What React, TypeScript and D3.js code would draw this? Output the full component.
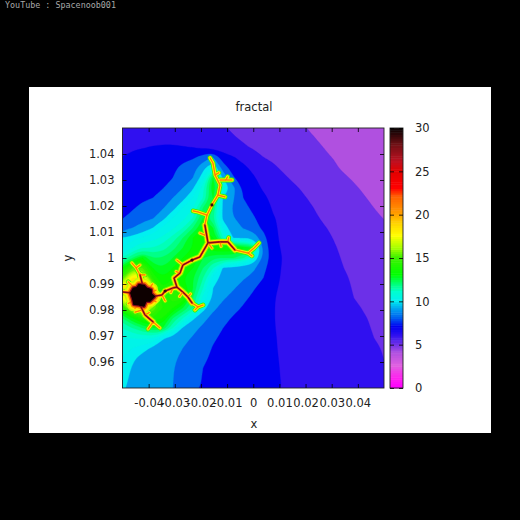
import { useEffect, useRef } from 'react';
import * as d3 from 'd3';

const xTicks = [-0.04, -0.03, -0.02, -0.01, 0, 0.01, 0.02, 0.03, 0.04];
const yTicks = [0.96, 0.97, 0.98, 0.99, 1, 1.01, 1.02, 1.03, 1.04];
const barTicks = [0, 5, 10, 15, 20, 25, 30];

// colour stops of the palette
const paletteValues = [0, 1, 2.5, 4, 5, 6, 7, 8, 9, 10, 11, 12, 13, 15, 16, 17.5, 19, 20, 22, 23, 25, 26, 28, 30];
const paletteColors = ['#ff00ff', '#ff20f0', '#e060e0', '#b050e0', '#6c30e8', '#3010f0', '#0000f0', '#0060f0', '#00a0f0', '#00f0f0', '#00ffd0', '#00ff70', '#00ff00', '#40f000', '#a0ff00', '#ffff00', '#ffd000', '#ffa000', '#ff6000', '#ff0000', '#e00000', '#c01020', '#701015', '#000000'];

// iteration counts, top row y=1.05 to bottom row y=0.95, left x=-0.05 to right x=0.05
const iterationRows = [
  [6, 6.05, 6.1, 6.1, 6.1, 6.05, 6, 5.9, 5.8, 5.7, 5.55, 5.42, 5.3, 5.17, 5.05, 4.92, 4.79, 4.66, 4.54, 4.41, 4.3, 4.2, 4.1, 4, 3.95, 3.85, 3.8],
  [6.2, 6.25, 6.3, 6.3, 6.3, 6.3, 6.25, 6.15, 6, 5.8, 5.7, 5.55, 5.42, 5.3, 5.17, 5.04, 4.9, 4.78, 4.65, 4.52, 4.4, 4.28, 4.15, 4.05, 3.95, 3.85, 3.75],
  [6.35, 6.42, 6.48, 6.55, 6.6, 6.6, 6.55, 6.52, 6.42, 6.3, 6.1, 5.95, 5.6, 5.45, 5.3, 5.18, 5.05, 4.92, 4.8, 4.68, 4.5, 4.4, 4.28, 4.2, 4.1, 4, 3.9],
  [6.52, 6.7, 6.85, 7, 7.15, 7.3, 7.4, 7.4, 8, 8.6, 7, 6.6, 6.25, 5.9, 5.52, 5.4, 5.25, 5.1, 5, 4.8, 4.6, 4.48, 4.35, 4.25, 4.15, 4.05, 3.95],
  [6.7, 6.85, 7, 7.15, 7.3, 7.42, 7.6, 8.1, 9.2, 10.5, 8, 7.1, 6.7, 6.3, 5.95, 5.6, 5.4, 5.3, 5.15, 5, 4.8, 4.6, 4.4, 4.3, 4.2, 4.1, 4],
  [6.8, 7, 7.1, 7.2, 7.35, 7.5, 8, 8.5, 10, 12.5, 9.3, 7.6, 7.1, 6.6, 6.2, 5.95, 5.6, 5.4, 5.3, 5.15, 5, 4.8, 4.6, 4.42, 4.3, 4.2, 4.1],
  [6.9, 7, 7.15, 7.3, 7.45, 8, 8.5, 9.4, 10.8, 13, 11, 8.8, 7.3, 6.8, 6.4, 6.1, 5.85, 5.6, 5.42, 5.3, 5.15, 5, 4.8, 4.6, 4.4, 4.3, 4.2],
  [7, 7.15, 7.3, 7.5, 8, 8.5, 9.3, 10, 11, 12.5, 9.4, 8.6, 7.5, 7, 6.65, 6.3, 6.05, 5.8, 5.55, 5.4, 5.25, 5.1, 5, 4.8, 4.55, 4.35, 4.25],
  [7.2, 7.4, 7.8, 8.1, 8.4, 9.3, 10, 10.5, 12, 12, 9.3, 8.4, 7.8, 7.3, 6.9, 6.4, 6.2, 5.95, 5.75, 5.5, 5.35, 5.2, 5.05, 4.95, 4.8, 4.5, 4.35],
  [7.45, 7.8, 8.1, 8.4, 9.3, 10, 10.3, 11, 12.5, 11.5, 9.3, 8.55, 8.1, 7.6, 7.1, 6.55, 6.3, 6.1, 5.85, 5.6, 5.42, 5.3, 5.15, 5, 4.9, 4.75, 4.45],
  [8.2, 8.5, 9, 9.5, 10.1, 10.4, 11, 12, 13, 12.5, 10, 9, 8.45, 7.9, 7.3, 6.6, 6.35, 6.2, 6, 5.75, 5.55, 5.4, 5.25, 5.1, 5, 4.9, 4.75],
  [9.5, 9.8, 10.1, 10.3, 10.6, 11.2, 12, 13, 13.5, 13, 11, 9.5, 9.4, 9.3, 7.9, 6.6, 6.4, 6.25, 6.05, 5.85, 5.65, 5.48, 5.35, 5.2, 5.1, 5, 4.9],
  [10, 10.5, 11, 11, 11.3, 11.8, 12.5, 13, 13, 13.5, 13.5, 13.5, 13, 12.5, 8.4, 6.6, 6.45, 6.3, 6.1, 5.95, 5.75, 5.55, 5.4, 5.3, 5.2, 5.05, 5],
  [11, 12, 13, 12, 12, 12.5, 13, 13.5, 12.5, 12, 12, 12, 11.5, 10.5, 8.3, 6.9, 6.45, 6.3, 6.15, 6, 5.85, 5.6, 5.45, 5.35, 5.25, 5.15, 5.05],
  [13, 15, 15, 13, 12.5, 13, 13.5, 13, 12, 11, 9.4, 9.2, 9, 8.7, 7.8, 6.8, 6.4, 6.35, 6.2, 6.05, 5.9, 5.75, 5.5, 5.42, 5.3, 5.2, 5.1],
  [15, 18, 18, 14, 13, 13.5, 13, 12.5, 11.5, 9.8, 9.3, 9, 8.6, 8.2, 7.5, 6.7, 6.4, 6.35, 6.25, 6.1, 5.95, 5.8, 5.6, 5.4, 5.35, 5.25, 5.15],
  [18, 20, 20, 17, 13.5, 14, 13.5, 12.5, 11, 9.5, 9, 8.6, 8.1, 7.6, 7.1, 6.58, 6.4, 6.35, 6.25, 6.15, 6, 5.85, 5.65, 5.45, 5.35, 5.25, 5.2],
  [17, 20, 22, 16, 13.5, 14.5, 14, 12, 10.3, 9.4, 8.6, 8.2, 7.7, 7.3, 6.95, 6.53, 6.38, 6.35, 6.3, 6.2, 6.05, 5.9, 5.7, 5.5, 5.4, 5.3, 5.25],
  [14, 17, 18, 15.5, 14, 13.5, 12.5, 11.5, 9.9, 8.7, 8.2, 7.8, 7.4, 7.1, 6.85, 6.52, 6.38, 6.35, 6.3, 6.25, 6.1, 6, 5.85, 5.65, 5.45, 5.35, 5.3],
  [12, 13, 14, 14, 13.5, 12, 11, 9.7, 8.8, 8.2, 7.8, 7.4, 7.2, 7, 6.8, 6.52, 6.38, 6.35, 6.3, 6.25, 6.15, 6.05, 5.95, 5.75, 5.55, 5.4, 5.35],
  [11, 11.5, 12, 12.5, 12.5, 11, 9.4, 8.8, 8.3, 7.9, 7.5, 7.3, 7.1, 6.95, 6.75, 6.53, 6.38, 6.35, 6.3, 6.25, 6.2, 6.1, 6, 5.85, 5.6, 5.45, 5.38],
  [10.5, 10.5, 10.6, 10.5, 9.6, 9.2, 8.8, 8.4, 8, 7.6, 7.35, 7.2, 7, 6.9, 6.75, 6.55, 6.4, 6.35, 6.3, 6.25, 6.2, 6.15, 6.05, 5.95, 5.75, 5.5, 5.4],
  [10.2, 10, 9.7, 9.4, 9.1, 8.8, 8.5, 8.2, 7.8, 7.45, 7.3, 7.15, 7, 6.85, 6.7, 6.55, 6.42, 6.35, 6.3, 6.25, 6.2, 6.15, 6.1, 6, 5.85, 5.6, 5.45],
  [10, 9.6, 9.3, 9.1, 8.9, 8.65, 8.3, 8, 7.6, 7.4, 7.25, 7.1, 7, 6.85, 6.7, 6.55, 6.45, 6.4, 6.35, 6.3, 6.25, 6.2, 6.15, 6.1, 5.95, 5.75, 5.48],
  [9.8, 9.45, 9.2, 9, 8.8, 8.55, 8.2, 7.9, 7.5, 7.35, 7.2, 7.1, 7, 6.85, 6.7, 6.58, 6.45, 6.4, 6.35, 6.3, 6.25, 6.2, 6.15, 6.1, 6, 5.85, 5.6],
  [9.7, 9.35, 9.15, 8.95, 8.75, 8.52, 8.15, 7.8, 7.45, 7.3, 7.2, 7.1, 7, 6.85, 6.7, 6.6, 6.45, 6.4, 6.35, 6.3, 6.25, 6.2, 6.15, 6.1, 6.05, 5.95, 5.75],
  [9.6, 9.3, 9.1, 8.9, 8.7, 8.5, 8.1, 7.75, 7.4, 7.3, 7.2, 7.1, 7, 6.85, 6.75, 6.6, 6.48, 6.4, 6.35, 6.3, 6.25, 6.2, 6.15, 6.1, 6.05, 6, 5.85],
];

// the thin filaments are too fine for the grid, traced as [x, y]
const deepBranches: [number, number][][] = [
  [[-0.0425, 0.9904], [-0.0433, 0.9935]],
  [[-0.0433, 0.9819], [-0.0414, 0.9781], [-0.0383, 0.9754]],
  [[-0.0395, 0.985], [-0.0349, 0.9858], [-0.0337, 0.9873], [-0.0307, 0.9885], [-0.0292, 0.9888]],
  [[-0.0292, 0.9888], [-0.0269, 0.9869], [-0.025, 0.985], [-0.0234, 0.9827]],
  [[-0.0292, 0.9888], [-0.0303, 0.9923], [-0.028, 0.9942], [-0.0269, 0.9973], [-0.0234, 0.9992], [-0.0204, 1.0004], [-0.0173, 1.0058], [-0.0185, 1.0127]],
  [[-0.0173, 1.0058], [-0.0127, 1.0062], [-0.0097, 1.0062], [-0.007, 1.0031]],
  [[-0.0498, 0.9869], [-0.046, 0.9865]],
];
const tipBranches: [number, number][][] = [
  [[-0.0433, 0.9935], [-0.0448, 0.9962], [-0.0464, 0.9981]],
  [[-0.0448, 0.9962], [-0.0433, 0.9973]],
  [[-0.0433, 0.9935], [-0.0414, 0.9935]],
  [[-0.0383, 0.9754], [-0.0357, 0.9731]],
  [[-0.0383, 0.9754], [-0.0402, 0.9727]],
  [[-0.0425, 0.98], [-0.0452, 0.9792]],
  [[-0.0349, 0.9858], [-0.0337, 0.9835]],
  [[-0.0234, 0.9827], [-0.0211, 0.9812], [-0.0192, 0.9819]],
  [[-0.0211, 0.9812], [-0.0223, 0.98]],
  [[-0.0269, 0.9973], [-0.0292, 0.9992]],
  [[-0.0185, 1.0127], [-0.0177, 1.0165], [-0.0158, 1.0204], [-0.0135, 1.0242], [-0.0127, 1.0281], [-0.0146, 1.0319], [-0.0154, 1.0365], [-0.0165, 1.0385]],
  [[-0.0177, 1.0165], [-0.0211, 1.0177], [-0.023, 1.0181]],
  [[-0.0185, 1.0088], [-0.0204, 1.0096]],
  [[-0.0135, 1.0242], [-0.0108, 1.0235]],
  [[-0.0127, 1.03], [-0.0081, 1.03]],
  [[-0.007, 1.0031], [-0.002, 1.0019], [0.0003, 1.0038], [0.0022, 1.0058]],
  [[-0.002, 1.0019], [-0.0005, 1.0008]],
  [[-0.0414, 0.9781], [-0.0398, 0.979]],
  [[-0.025, 0.985], [-0.024, 0.9862]],
  [[-0.0269, 0.9869], [-0.0282, 0.9852]],
  [[-0.0307, 0.9885], [-0.0315, 0.9867]],
  [[-0.028, 0.9942], [-0.0295, 0.9948]],
  [[-0.0173, 1.0058], [-0.0158, 1.0038]],
  [[-0.0097, 1.0062], [-0.0094, 1.0078]],
  [[-0.0127, 1.0062], [-0.0123, 1.0045]],
  [[-0.0146, 1.0319], [-0.0132, 1.0328]],
  [[-0.0105, 1.03], [-0.0098, 1.0312]],
  [[-0.0478, 0.9825], [-0.045, 0.984]],
  [[-0.0478, 0.9908], [-0.0455, 0.9885]],
  [[-0.0385, 0.99], [-0.04, 0.988]],
  [[-0.0372, 0.9876], [-0.039, 0.9868]],
  [[-0.0372, 0.9832], [-0.039, 0.984]],
  [[-0.0452, 0.9806], [-0.044, 0.982]],
];
const blobOutline: [number, number][] = [
  [-0.0468, 0.9865], [-0.0458, 0.9884], [-0.0445, 0.9886], [-0.0437, 0.9897], [-0.0417, 0.9894], [-0.0408, 0.9884], [-0.0391, 0.9878], [-0.039, 0.9862], [-0.0378, 0.9852],
  [-0.0395, 0.9835], [-0.041, 0.9836], [-0.0418, 0.9815], [-0.0438, 0.982], [-0.0456, 0.9822], [-0.046, 0.984],
];
const knots: [number, number][] = [[-0.0158, 1.0204], [-0.0234, 0.9992], [-0.0337, 0.9873]];

const margin = { left: 122.5, right: 384, top: 128, bottom: 388 };
const bar = { left: 390, right: 403 };

export default function App() {
  const xAxisRef = useRef<SVGGElement>(null);
  const xTopRef = useRef<SVGGElement>(null);
  const yAxisRef = useRef<SVGGElement>(null);
  const yRightRef = useRef<SVGGElement>(null);
  const barAxisRef = useRef<SVGGElement>(null);
  const barInnerRef = useRef<SVGGElement>(null);

  const xScale = d3.scaleLinear().domain([-0.05, 0.05]).range([margin.left, margin.right]);
  const yScale = d3.scaleLinear().domain([0.95, 1.05]).range([margin.bottom, margin.top]);
  const barScale = d3.scaleLinear().domain([0, 30]).range([margin.bottom, margin.top]);
  const color = d3.scaleLinear<string>().domain(paletteValues).range(paletteColors).interpolate(d3.interpolateRgb);

  useEffect(() => {
    const style = (sel: any) => {
      sel.select('.domain').remove();
      sel.selectAll('line').attr('stroke', '#000').attr('stroke-width', 0.8);
      sel.selectAll('text').attr('fill', '#222').style('font', '11.5px "DejaVu Sans"');
    };
    const fmt = (d: any) => String(d);
    d3.select(xAxisRef.current).call(d3.axisBottom(xScale).tickValues(xTicks).tickSizeInner(-4).tickSizeOuter(0).tickPadding(11).tickFormat(fmt) as any).call(style);
    d3.select(xTopRef.current).call(d3.axisTop(xScale).tickValues(xTicks).tickSizeInner(-4).tickSizeOuter(0).tickFormat(() => '') as any).call(style);
    d3.select(yAxisRef.current).call(d3.axisLeft(yScale).tickValues(yTicks).tickSizeInner(-4).tickSizeOuter(0).tickPadding(8).tickFormat(fmt) as any).call(style);
    d3.select(yRightRef.current).call(d3.axisRight(yScale).tickValues(yTicks).tickSizeInner(-4).tickSizeOuter(0).tickFormat(() => '') as any).call(style);
    d3.select(barAxisRef.current).call(d3.axisRight(barScale).tickValues(barTicks).tickSizeInner(-4).tickSizeOuter(0).tickPadding(12).tickFormat(fmt) as any).call(style);
    d3.select(barInnerRef.current).call(d3.axisLeft(barScale).tickValues(barTicks).tickSizeInner(-4).tickSizeOuter(0).tickFormat(() => '') as any).call(style);
  }, []);

  // bands stay flat up to 10, above that pm3d shades smoothly
  const thresholds = [3.5, 4.5, 5.5, 6.5, 7.5, 8.5, 9.5, ...d3.range(10, 24, 0.5)];
  const bandColor = (t: number) => (t < 9.6 ? color(t + 0.5) : color(t + 0.25));
  const contours = d3.contours().size([iterationRows[0].length, iterationRows.length]).smooth(true).thresholds(thresholds)(iterationRows.flat());
  const gridX = d3.scaleLinear().domain([0.5, iterationRows[0].length - 0.5]).range([-0.05, 0.05]);
  const gridY = d3.scaleLinear().domain([0.5, iterationRows.length - 0.5]).range([1.05, 0.95]);
  const ring = d3.line<number[]>().x(p => xScale(gridX(p[0]))).y(p => yScale(gridY(p[1]))).curve(d3.curveBasisClosed);
  const contourPath = (c: any) => c.coordinates.flatMap((poly: number[][][]) => poly.map(r => ring(r.slice(0, -1)))).join('');

  const line = d3.line<[number, number]>().x(d => xScale(d[0])).y(d => yScale(d[1])).curve(d3.curveLinear);
  const blob = d3.line<[number, number]>().x(d => xScale(d[0])).y(d => yScale(d[1])).curve(d3.curveLinearClosed)(blobOutline) as string;
  const deepPath = deepBranches.map(b => line(b)).join('');
  const tipPath = tipBranches.map(b => line(b)).join('');

  const barValues = d3.range(0, 30, 0.25);
  const barStep = barScale(0) - barScale(0.25);

  return (
    <svg width={520} height={520} style={{ position: 'absolute', left: 0, top: 0, display: 'block' }}>
      <defs>
        <clipPath id="plot">
          <rect x={margin.left} y={margin.top} width={margin.right - margin.left} height={margin.bottom - margin.top} />
        </clipPath>
        <filter id="soft"><feGaussianBlur stdDeviation="0.55" /></filter>
      </defs>
      <rect width={520} height={520} fill="#000" />
      <text x={5} y={8} fill="#a8a8a8" style={{ font: '8.4px "DejaVu Sans Mono"' }}>YouTube : Spacenoob001</text>
      <rect x={29} y={87} width={462} height={346} fill="#fff" />

      <g clipPath="url(#plot)">
        <rect x={margin.left} y={margin.top} width={margin.right - margin.left} height={margin.bottom - margin.top} fill={color(4)} />
        {contours.map(c => (
          <path key={c.value} d={contourPath(c)} fill={bandColor(c.value)} stroke={bandColor(c.value)} strokeWidth={0.3} />
        ))}
        <g fill="none" strokeLinecap="round" strokeLinejoin="round" filter="url(#soft)">
          <path d={deepPath} stroke={color(15.5)} strokeWidth={6.5} />
          <path d={tipPath} stroke={color(15)} strokeWidth={4.8} />
          <path d={blob} stroke={color(16.5)} strokeWidth={14} />
          <path d={deepPath} stroke={color(17.5)} strokeWidth={4.6} />
          <path d={tipPath} stroke={color(17.5)} strokeWidth={3} />
          <path d={blob} stroke={color(18)} strokeWidth={11} />
          <path d={deepPath} stroke={color(20)} strokeWidth={3} />
          <path d={tipPath} stroke={color(19.5)} strokeWidth={1.7} />
          <path d={blob} stroke={color(21)} strokeWidth={7} />
          <path d={deepPath} stroke={color(26)} strokeWidth={1.6} />
          <path d={tipPath} stroke={color(22)} strokeWidth={0.7} />
          <path d={blob} stroke={color(27)} strokeWidth={4} />
          <path d={deepPath} stroke={color(28.5)} strokeWidth={0.7} />
          <path d={blob} fill="#0a0000" stroke="#0a0000" strokeWidth={1.5} />
          {knots.map((k, i) => (
            <circle key={i} cx={xScale(k[0])} cy={yScale(k[1])} r={1.6} fill={color(29)} stroke="none" />
          ))}
        </g>
      </g>

      {barValues.map(v => (
        <rect key={v} x={bar.left} y={barScale(v + 0.25)} width={bar.right - bar.left} height={barStep + 0.5} fill={color(v)} />
      ))}

      <rect x={margin.left} y={margin.top} width={margin.right - margin.left} height={margin.bottom - margin.top} fill="none" stroke="#222" strokeWidth={0.9} />
      <rect x={bar.left} y={margin.top} width={bar.right - bar.left} height={margin.bottom - margin.top} fill="none" stroke="#222" strokeWidth={0.9} />

      <g ref={xAxisRef} transform={`translate(0,${margin.bottom})`} />
      <g ref={xTopRef} transform={`translate(0,${margin.top})`} />
      <g ref={yAxisRef} transform={`translate(${margin.left},0)`} />
      <g ref={yRightRef} transform={`translate(${margin.right},0)`} />
      <g ref={barAxisRef} transform={`translate(${bar.right},0)`} />
      <g ref={barInnerRef} transform={`translate(${bar.left},0)`} />

      <g fill="#222" textAnchor="middle" style={{ font: '11.5px "DejaVu Sans"' }}>
        <text x={254} y={111}>fractal</text>
        <text x={254} y={428}>x</text>
        <text transform="translate(72,258) rotate(-90)">y</text>
      </g>
    </svg>
  );
}
